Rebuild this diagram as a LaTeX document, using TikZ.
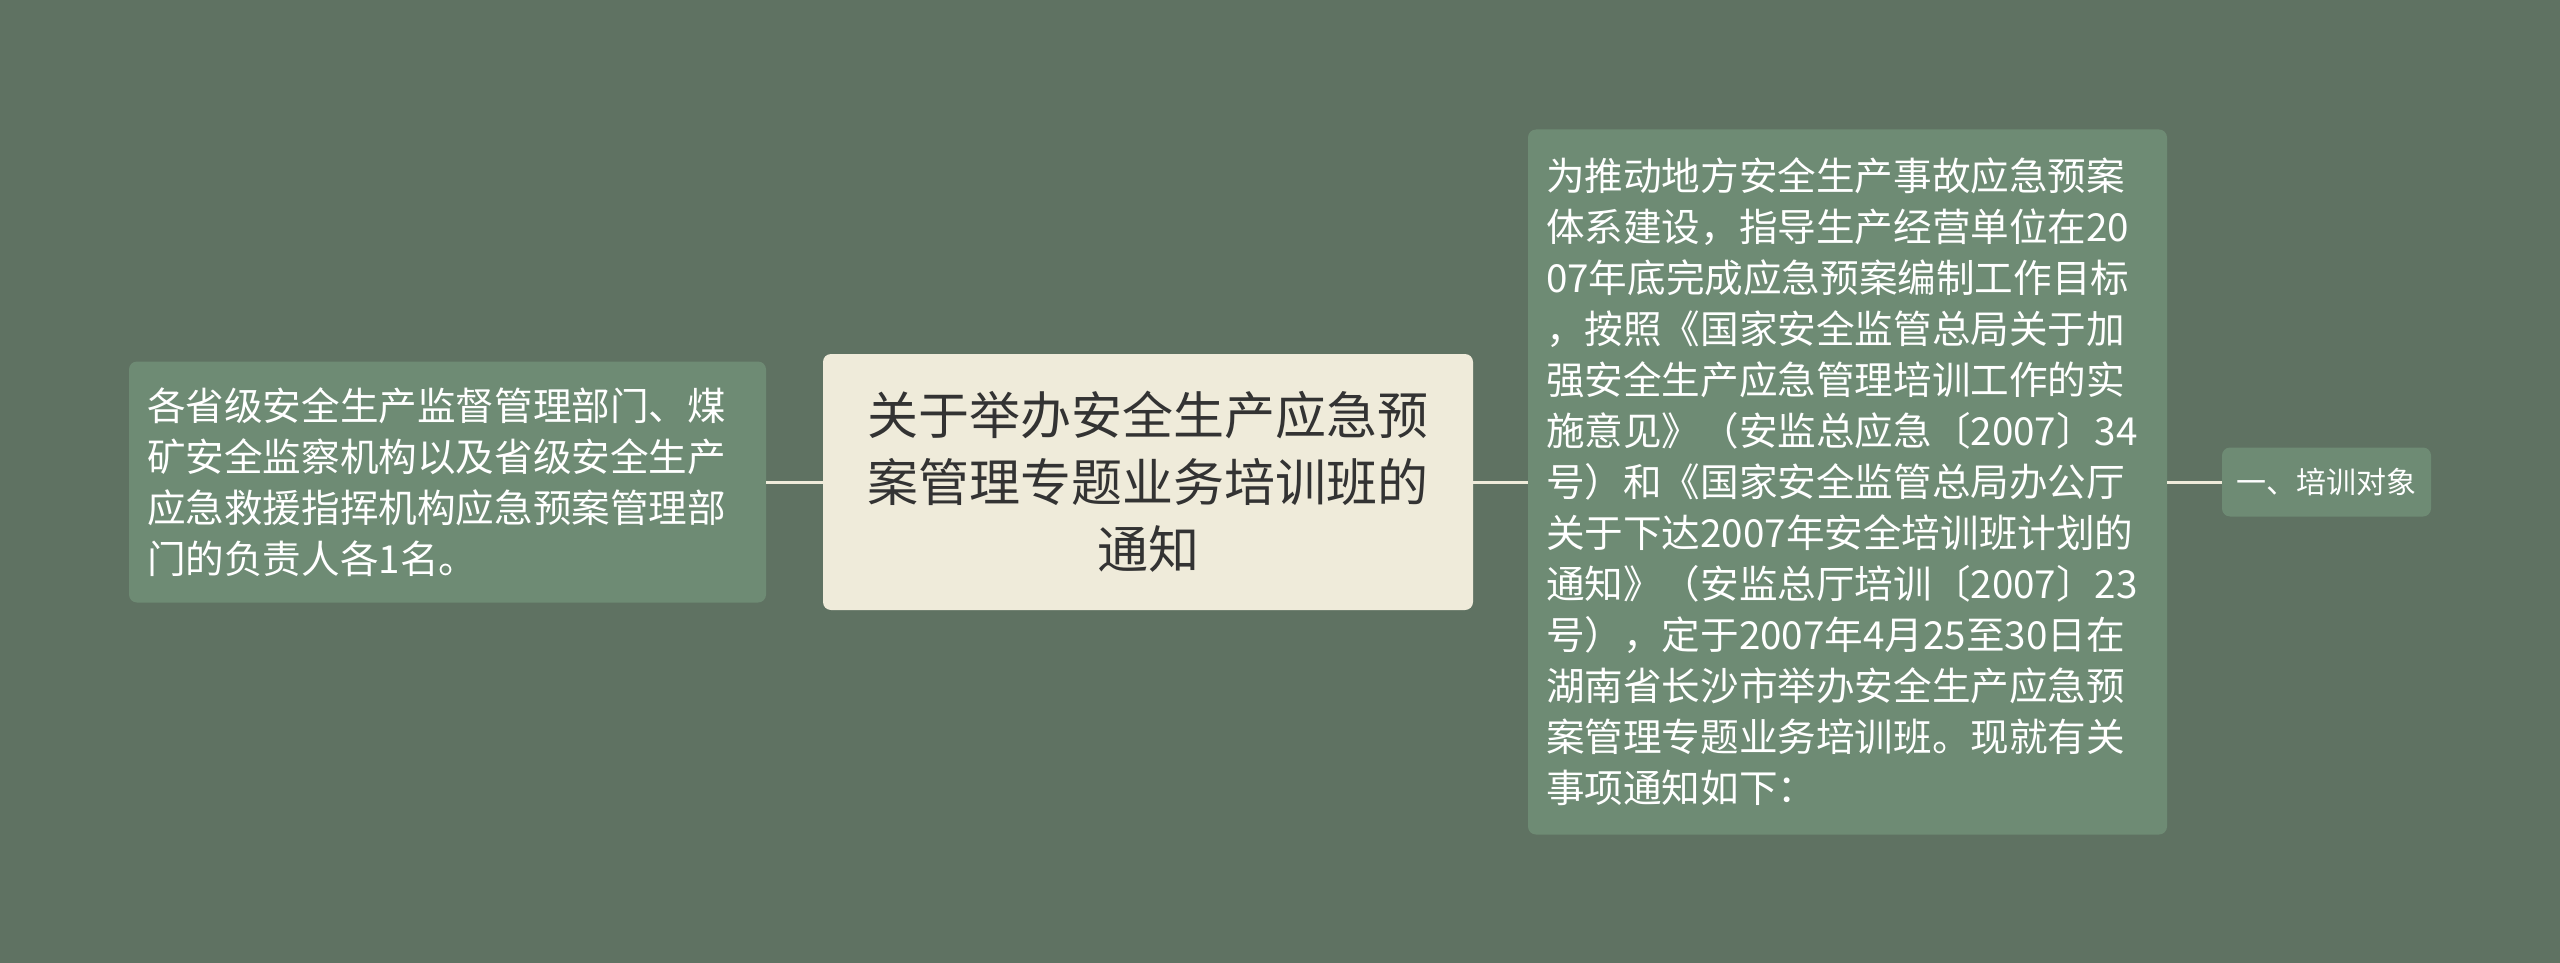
\documentclass[tikz,border=0pt]{standalone}
\usepackage{fontspec}
\newfontfamily\cjk{Noto Sans CJK SC}
\definecolor{bgcol}{HTML}{5F7262}
\definecolor{boxcol}{HTML}{6E8B74}
\definecolor{rootcol}{HTML}{EFEBDA}
\definecolor{rootink}{HTML}{333333}
\def\midy{-241pt}

\tikzset{
  leaf/.style={fill=boxcol, text=white, rounded corners=4pt, align=left,
    inner sep=0pt, font=\cjk\fontsize{19.3}{25.5}\selectfont},
  root/.style={fill=rootcol, text=rootink, rounded corners=4pt, align=center,
    inner sep=0pt, font=\cjk\fontsize{25.5}{33.5}\selectfont},
  link/.style={draw=rootcol, line width=1.5pt}
}

\begin{document}
\begin{tikzpicture}
    \fill[bgcol] (0,0) rectangle (1280pt,-481.5pt);
    \useasboundingbox (0,0) rectangle (1280pt,-481.5pt);

    \node[root, minimum width=325pt, minimum height=128pt] (notice)
      at (574pt,\midy) {关于举办安全生产应急预\\案管理专题业务培训班的\\通知};
    \node[leaf, inner xsep=9pt, text width=300.5pt, minimum height=120.5pt] (target)
      at (223.75pt,\midy) {各省级安全生产监督管理部门、煤\\矿安全监察机构以及省级安全生产\\应急救援指挥机构应急预案管理部\\门的负责人各1名。};
    \node[leaf, inner xsep=9pt, text width=301.5pt, minimum height=352.5pt] (intro)
      at (923.75pt,\midy) {为推动地方安全生产事故应急预案\\体系建设，指导生产经营单位在20\\07年底完成应急预案编制工作目标\\，按照《国家安全监管总局关于加\\强安全生产应急管理培训工作的实\\施意见》（安监总应急〔2007〕34\\号）和《国家安全监管总局办公厅\\关于下达2007年安全培训班计划的\\通知》（安监总厅培训〔2007〕23\\号），定于2007年4月25至30日在\\湖南省长沙市举办安全生产应急预\\案管理专题业务培训班。现就有关\\事项通知如下：};
    \node[leaf, minimum width=104.5pt, minimum height=34.5pt,
      font=\cjk\fontsize{15}{17}\selectfont] (item)
      at (1163.25pt,\midy) {一、培训对象};

    \draw[link] (target.east) -- (notice.west);
    \draw[link] (notice.east) -- (intro.west);
    \draw[link] (intro.east) -- (item.west);
\end{tikzpicture}
\end{document}
